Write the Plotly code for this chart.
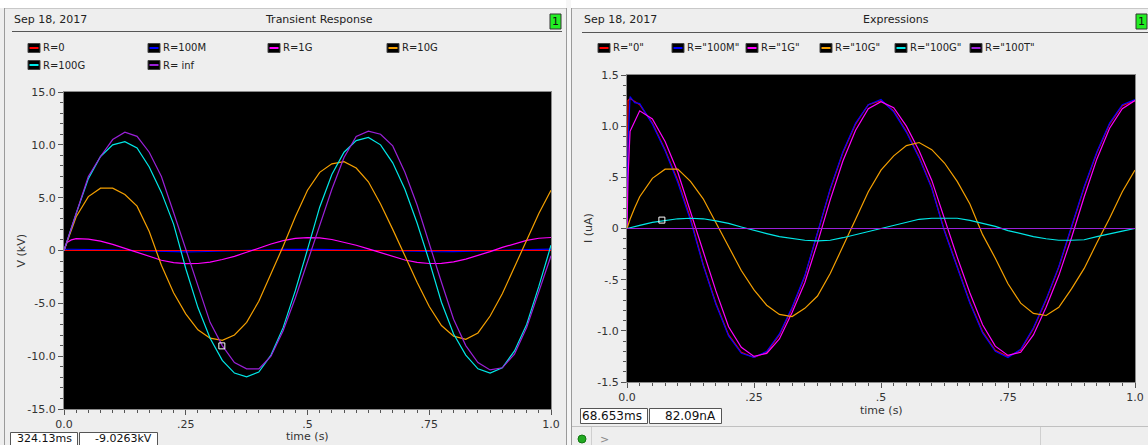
import plotly.graph_objects as go

# ---------------- data ----------------
t = [0, 0.002, 0.006, 0.015,
     0.025, 0.05, 0.075, 0.1, 0.125, 0.15, 0.175, 0.2, 0.225, 0.25,
     0.275, 0.3, 0.325, 0.35, 0.375, 0.4, 0.425, 0.45, 0.475, 0.5,
     0.525, 0.55, 0.575, 0.6, 0.625, 0.65, 0.675, 0.7, 0.725, 0.75,
     0.775, 0.8, 0.825, 0.85, 0.875, 0.9, 0.925, 0.95, 0.975, 1.0]

# Left chart: Transient Response, V (kV)
v_r0 = [0, 0, 0, 0,
        0, 0, 0, 0, 0, 0, 0, 0, 0, 0,
        0, 0, 0, 0, 0, 0, 0, 0, 0, 0,
        0, 0, 0, 0, 0, 0, 0, 0, 0, 0,
        0, 0, 0, 0, 0, 0, 0, 0, 0, 0]
v_100m = [0, 0.06, 0.12, 0.12,
          0.12, 0.10, 0.08, 0.05, 0.01, -0.03, -0.07, -0.10, -0.12, -0.13,
          -0.12, -0.10, -0.08, -0.05, -0.01, 0.04, 0.07, 0.10, 0.12, 0.13,
          0.11, 0.09, 0.07, 0.04, 0.00, -0.04, -0.07, -0.10, -0.12, -0.13,
          -0.12, -0.10, -0.07, -0.04, 0.00, 0.04, 0.07, 0.10, 0.12, 0.13]
v_1g = [0, 0.3, 0.75, 1.0,
        1.12, 1.08, 0.88, 0.58, 0.2, -0.2, -0.58, -0.92, -1.14, -1.24,
        -1.23, -1.1, -0.85, -0.55, -0.17, 0.25, 0.62, 0.93, 1.14, 1.22,
        1.19, 1.04, 0.8, 0.5, 0.15, -0.22, -0.58, -0.9, -1.12, -1.23,
        -1.22, -1.07, -0.81, -0.49, -0.11, 0.29, 0.66, 0.96, 1.16, 1.23]
v_10g = [0, 0.25, 0.75, 1.9,
         3.2, 5.1, 5.9, 5.9, 5.3, 4.2, 1.8, -1.4, -4.0, -6.0,
         -7.5, -8.3, -8.5, -8.0, -6.8, -4.8, -2.2, 0.4, 3.2, 5.7,
         7.4, 8.2, 8.4, 7.8, 6.5, 4.4, 2.0, -0.5, -3.0, -5.3,
         -7.1, -8.1, -8.4, -7.8, -6.2, -4.1, -1.6, 1.0, 3.5, 5.7]
v_100g = [0, 0.28, 0.85, 2.1,
          3.5, 6.8, 8.9, 10.0, 10.3, 9.7, 7.9, 5.5, 2.5, -1.7,
          -5.4, -8.3, -10.4, -11.6, -11.95, -11.5, -9.9, -7.3, -3.8, 0.1,
          4.1, 7.2, 9.3, 10.4, 10.7, 10.0, 8.3, 5.8, 2.6, -1.0,
          -4.9, -7.9, -9.9, -11.2, -11.6, -11.1, -9.5, -7.0, -3.4, 0.5]
v_inf = [0, 0.28, 0.85, 2.1,
         3.6, 7.0, 8.9, 10.5, 11.2, 10.8, 9.3, 7.0, 3.6, 0.2,
         -3.4, -6.8, -9.0, -10.6, -11.2, -11.2, -10.0, -7.6, -4.5, -1.0,
         2.3, 5.8, 8.8, 10.8, 11.3, 11.0, 9.9, 7.4, 4.3, 0.6,
         -3.0, -6.5, -9.0, -10.6, -11.3, -11.1, -9.8, -7.3, -4.0, -0.5]

# Right chart: Expressions, I (uA)
i_r0 = [0, 1.25, 1.27, 1.24,
        1.21, 1.03, 0.77, 0.47, 0.10, -0.35, -0.73, -1.04, -1.21, -1.26,
        -1.21, -1.04, -0.78, -0.47, -0.05, 0.38, 0.74, 1.02, 1.21, 1.25,
        1.15, 0.95, 0.70, 0.40, -0.02, -0.36, -0.72, -1.01, -1.19, -1.25,
        -1.19, -0.98, -0.70, -0.38, 0.00, 0.40, 0.74, 1.02, 1.20, 1.25]
i_100m = [0, 0.85, 1.29, 1.23,
          1.22, 1.02, 0.76, 0.45, 0.08, -0.36, -0.74, -1.05, -1.22, -1.26,
          -1.20, -1.03, -0.77, -0.46, -0.04, 0.39, 0.75, 1.03, 1.21, 1.26,
          1.14, 0.94, 0.69, 0.39, -0.03, -0.37, -0.73, -1.02, -1.20, -1.26,
          -1.18, -0.97, -0.69, -0.37, 0.01, 0.41, 0.75, 1.03, 1.21, 1.26]
i_1g = [0, 0.5, 0.95, 1.05,
        1.15, 1.07, 0.85, 0.55, 0.16, -0.24, -0.61, -0.96, -1.16, -1.25,
        -1.22, -1.08, -0.82, -0.53, -0.14, 0.28, 0.66, 0.96, 1.17, 1.24,
        1.18, 1.00, 0.76, 0.47, 0.09, -0.28, -0.63, -0.94, -1.15, -1.24,
        -1.21, -1.04, -0.77, -0.46, -0.09, 0.31, 0.68, 0.98, 1.17, 1.25]
i_10g = [0, 0.03, 0.09, 0.2,
         0.31, 0.49, 0.58, 0.58, 0.46, 0.29, 0.06, -0.17, -0.41, -0.60,
         -0.75, -0.84, -0.86, -0.78, -0.66, -0.44, -0.18, 0.09, 0.36, 0.57,
         0.71, 0.81, 0.84, 0.77, 0.64, 0.46, 0.24, -0.06, -0.29, -0.54,
         -0.73, -0.83, -0.85, -0.77, -0.59, -0.39, -0.14, 0.10, 0.36, 0.57]
i_100g = [0, 0.002, 0.007, 0.017,
          0.03, 0.06, 0.08, 0.095, 0.10, 0.095, 0.075, 0.05, 0.015, -0.02,
          -0.05, -0.08, -0.10, -0.115, -0.12, -0.115, -0.09, -0.06, -0.03, 0.0,
          0.03, 0.06, 0.09, 0.10, 0.10, 0.10, 0.08, 0.05, 0.02, -0.02,
          -0.05, -0.08, -0.10, -0.115, -0.115, -0.11, -0.08, -0.05, -0.025, 0.0]
i_100t = [0, 0, 0, 0,
          0, 0, 0, 0, 0, 0, 0, 0, 0, 0,
          0, 0, 0, 0, 0, 0, 0, 0, 0, 0,
          0, 0, 0, 0, 0, 0, 0, 0, 0, 0,
          0, 0, 0, 0, 0, 0, 0, 0, 0, 0]

left_names = ["R=0", "R=100M", "R=1G", "R=10G", "R=100G", "R= inf"]
right_names = ['R="0"', 'R="100M"', 'R="1G"', 'R="10G"', 'R="100G"', 'R="100T"']

cursor_left = (0.32413, -9.0263)     # 324.13ms, -9.0263kV
cursor_right = (0.068653, 0.08209)   # 68.653ms, 82.09nA

x_tickvals = [0, 0.25, 0.5, 0.75, 1.0]
x_ticktext = ["0.0", ".25", ".5", ".75", "1.0"]
yl_tickvals = [15, 10, 5, 0, -5, -10, -15]
yl_ticktext = ["15.0", "10.0", "5.0", "0", "-5.0", "-10.0", "-15.0"]
yr_tickvals = [1.5, 1.0, 0.5, 0, -0.5, -1.0, -1.5]
yr_ticktext = ["1.5", "1.0", ".5", "0", "-.5", "-1.0", "-1.5"]

# ---------------- figure ----------------
W, H = 1148, 445
FONT = "DejaVu Sans"
colors = ["#ff0000", "#0000ff", "#ff00ff", "#f5a000", "#00e8e8", "#9a20d8"]


def X(p):
    return p / W


def Y(p):
    return 1 - p / H


fig = go.Figure()

left_series = [v_r0, v_100m, v_1g, v_10g, v_100g, v_inf]
right_series = [i_r0, i_100m, i_1g, i_10g, i_100g, i_100t]

left_order = [1, 0, 2, 3, 4, 5]
for k in left_order:
    fig.add_trace(go.Scatter(x=t, y=left_series[k], mode="lines",
                             line=dict(color=colors[k], width=1.2),
                             xaxis="x", yaxis="y", showlegend=False,
                             hoverinfo="skip"))
for k in range(6):
    fig.add_trace(go.Scatter(x=t, y=right_series[k], mode="lines",
                             line=dict(color=colors[k], width=1.2),
                             xaxis="x2", yaxis="y2", showlegend=False,
                             hoverinfo="skip"))

fig.add_trace(go.Scatter(x=[cursor_left[0]], y=[cursor_left[1]], mode="markers",
                         marker=dict(symbol="square-open", size=6, color="white",
                                     line=dict(width=1, color="white")),
                         xaxis="x", yaxis="y", showlegend=False, hoverinfo="skip"))
fig.add_trace(go.Scatter(x=[cursor_right[0]], y=[cursor_right[1]], mode="markers",
                         marker=dict(symbol="square-open", size=6, color="white",
                                     line=dict(width=1, color="white")),
                         xaxis="x2", yaxis="y2", showlegend=False, hoverinfo="skip"))

axis_common = dict(showgrid=False, zeroline=False, showline=True,
                   linecolor="#8a8a8a", linewidth=1, mirror=True,
                   ticks="outside", ticklen=5, tickcolor="#555", tickwidth=1,
                   tickfont=dict(family=FONT, size=11, color="#333"),
                   fixedrange=True, tickmode="array", automargin=False)

fig.update_layout(
    width=W, height=H, autosize=False,
    margin=dict(l=0, r=0, t=0, b=0, pad=0, autoexpand=False),
    paper_bgcolor="#eeeeee", plot_bgcolor="#000000",
    font=dict(family=FONT, size=11, color="#222"),
    xaxis=dict(axis_common, domain=[X(64), X(551)], range=[0, 1], anchor="y",
               tickvals=x_tickvals, ticktext=x_ticktext,
               minor=dict(tickmode="linear", tick0=0, dtick=0.025, ticks="outside",
                          ticklen=3, tickcolor="#555", showgrid=False)),
    yaxis=dict(axis_common, domain=[Y(409), Y(92)], range=[-15, 15], anchor="x",
               tickvals=yl_tickvals, ticktext=yl_ticktext,
               minor=dict(tickmode="linear", tick0=0, dtick=1, ticks="outside",
                          ticklen=3, tickcolor="#555", showgrid=False)),
    xaxis2=dict(axis_common, domain=[X(627), X(1135)], range=[0, 1], anchor="y2",
                tickvals=x_tickvals, ticktext=x_ticktext,
                minor=dict(tickmode="linear", tick0=0, dtick=0.025, ticks="outside",
                           ticklen=3, tickcolor="#555", showgrid=False)),
    yaxis2=dict(axis_common, domain=[Y(382), Y(75)], range=[-1.5, 1.5], anchor="x2",
                tickvals=yr_tickvals, ticktext=yr_ticktext,
                minor=dict(tickmode="linear", tick0=0, dtick=0.1, ticks="outside",
                           ticklen=3, tickcolor="#555", showgrid=False)),
    hovermode=False,
)

shapes = []
annotations = []


def rect(x0, y0, x1, y1, fill=None, line="#888", lw=1, layer="above"):
    shapes.append(dict(type="rect", xref="paper", yref="paper",
                       x0=X(x0), x1=X(x1), y0=Y(y1), y1=Y(y0),
                       fillcolor=fill if fill else "rgba(0,0,0,0)",
                       line=dict(color=line, width=lw) if lw else dict(width=0),
                       layer=layer))


def line(x0, y0, x1, y1, color="#888", lw=1):
    shapes.append(dict(type="line", xref="paper", yref="paper",
                       x0=X(x0), x1=X(x1), y0=Y(y0), y1=Y(y1),
                       line=dict(color=color, width=lw), layer="above"))


def txt(x, y, s, size=11, anchor="left", color="#222", angle=0):
    annotations.append(dict(x=X(x), y=Y(y), xref="paper", yref="paper",
                            text=s, showarrow=False, xanchor=anchor,
                            yanchor="middle", textangle=angle,
                            font=dict(family=FONT, size=size, color=color)))


# top white strip and panel frames
rect(0, 0, W, 8, fill="#ffffff", lw=0, layer="below")
line(4, 8.5, 566, 8.5, color="#c8c8c8")
line(571, 8.5, W, 8.5, color="#c8c8c8")
line(4.5, 8, 4.5, H, color="#9a9a9a")
rect(566, 0, 571, H, fill="#f6f6f6", lw=0, layer="below")
line(566.5, 8, 566.5, H, color="#9a9a9a")
line(571.5, 8, 571.5, H, color="#9a9a9a")

# headers
txt(12, 19, "Sep 18, 2017", 11)
txt(319, 19, "Transient Response", 11, anchor="center")
line(12, 31.5, 562, 31.5, color="#555")
rect(550, 14, 561, 29, fill="#22ee22", line="#333")
txt(555.5, 21.5, "1", 11, anchor="center", color="#111")

txt(582, 19, "Sep 18, 2017", 11)
txt(896, 19, "Expressions", 11, anchor="center")
line(582, 32.5, W, 32.5, color="#555")
rect(1136, 14, 1147, 29, fill="#22ee22", line="#333")
txt(1141.5, 21.5, "1", 11, anchor="center", color="#111")

# custom legends
left_leg_pos = [(28, 48), (148, 48), (268, 48), (387, 48), (28, 65), (148, 65)]
for (lx, ly), name, c in zip(left_leg_pos, left_names, colors):
    rect(lx, ly - 4.5, lx + 12, ly + 4.5, fill="#000000", line="#444")
    line(lx + 1.5, ly, lx + 10.5, ly, color=c, lw=2)
    txt(lx + 13, ly, name, 10, color="#222")

right_leg_x = [598, 672, 746, 820, 895, 970]
for lx, name, c in zip(right_leg_x, right_names, colors):
    ly = 48
    rect(lx, ly - 4.5, lx + 12, ly + 4.5, fill="#000000", line="#444")
    line(lx + 1.5, ly, lx + 10.5, ly, color=c, lw=2)
    txt(lx + 13, ly, name, 10, color="#222")

# axis titles
txt(21, 250.5, "V (kV)", 11, anchor="center", color="#333", angle=-90)
txt(307, 436, "time (s)", 11, anchor="center", color="#333")
txt(589, 228, "I (uA)", 11, anchor="center", color="#333", angle=-90)
txt(881, 410, "time (s)", 11, anchor="center", color="#333")

# readout boxes
rect(10.5, 432.5, 77.5, 450, fill="#ffffff", line="#555")
rect(79.5, 432.5, 157.5, 450, fill="#ffffff", line="#555")
txt(74, 438, "324.13ms", 11, anchor="right", color="#111")
txt(154, 438, "-9.0263kV", 11, anchor="right", color="#111")

rect(580.5, 408.5, 647.5, 423.5, fill="#ffffff", line="#555")
rect(649.5, 408.5, 721.5, 423.5, fill="#ffffff", line="#555")
txt(644, 416, "68.653ms", 12, anchor="right", color="#111")
txt(718, 416, "82.09nA", 12, anchor="right", color="#111")

# status bar (right panel)
line(572, 426.5, W, 426.5, color="#c0c0c0")
shapes.append(dict(type="circle", xref="paper", yref="paper",
                   x0=X(578), x1=X(586), y0=Y(443), y1=Y(435),
                   fillcolor="#22aa22", line=dict(color="#117711", width=1),
                   layer="above"))
line(591.5, 427, 591.5, H, color="#cfcfcf")
txt(598, 439, ">", 11, color="#888")
line(1040.5, 427, 1040.5, H, color="#cfcfcf")

fig.update_layout(shapes=shapes, annotations=annotations)

fig.write_html(
    "out.html",
    config={"displayModeBar": False, "responsive": False},
    post_script="document.body.style.margin='0px';document.body.style.padding='0px';"
                "document.body.style.overflow='hidden';",
)
